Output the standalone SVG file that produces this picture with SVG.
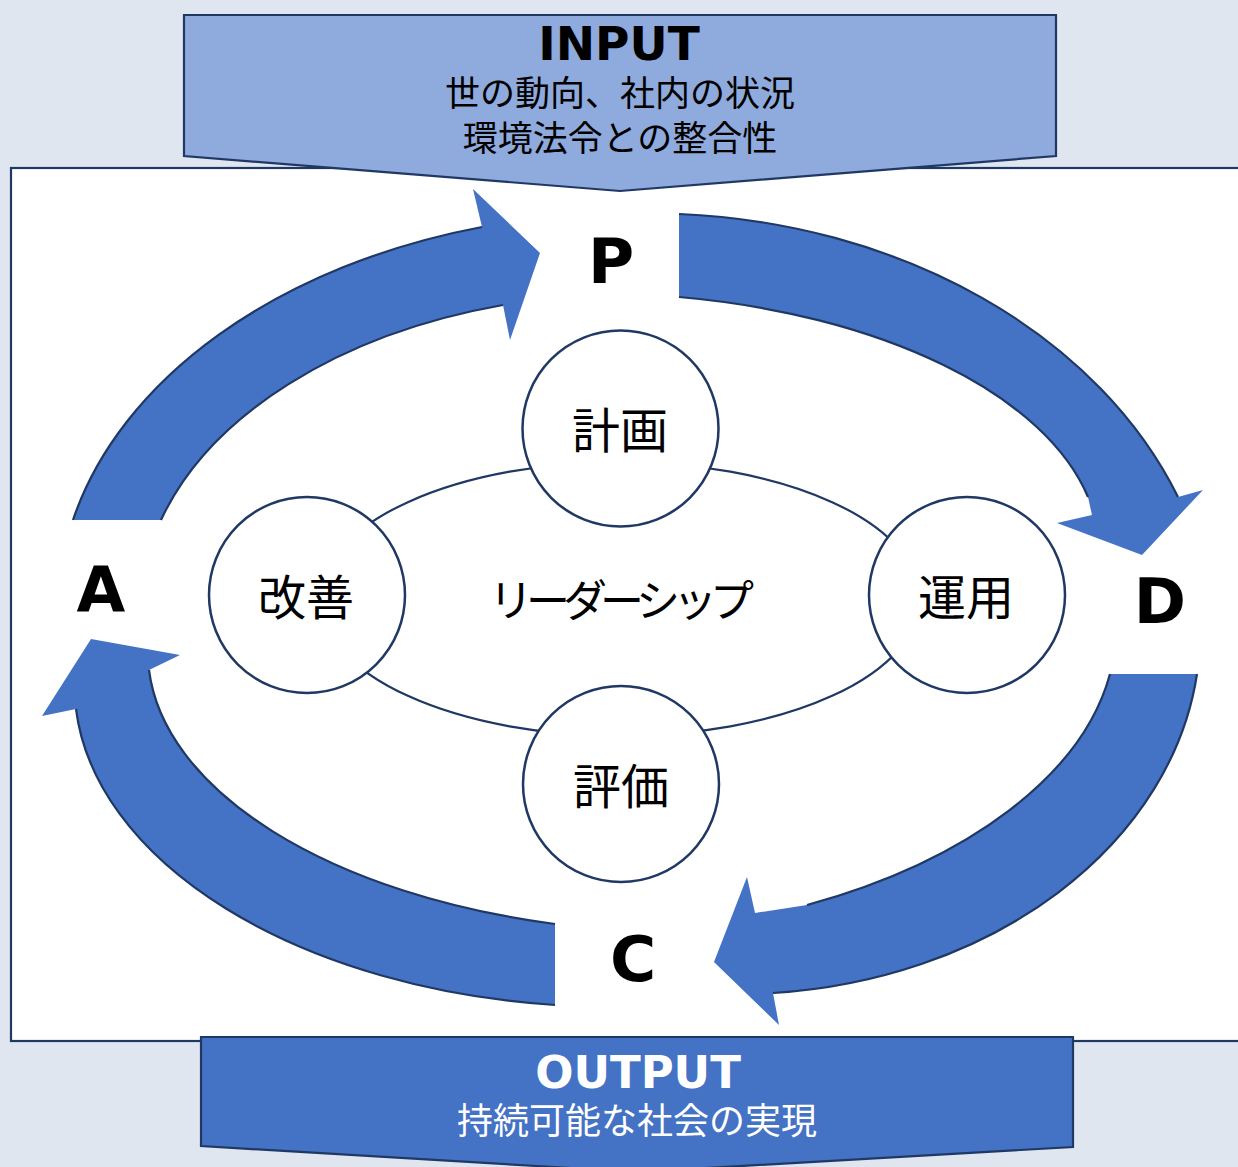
<svg xmlns="http://www.w3.org/2000/svg" width="1238" height="1167" viewBox="0 0 1238 1167">
<style>
.edge{fill:none;stroke:#1f3864;stroke-width:2.2}
.blue{fill:#4472c4;stroke:none}
.node{fill:#ffffff;stroke:#1f3864;stroke-width:2.5}
.jp{font-family:"Noto Sans CJK JP","Noto Sans",sans-serif;fill:#000}
.lat{font-family:"DejaVu Sans","Verdana",sans-serif;font-weight:bold;fill:#000}
</style>
<rect width="1238" height="1167" fill="#dfe6f0"/>
<g id="panel">
<rect x="11" y="168" width="1240" height="873" fill="#ffffff" stroke="#1f3864" stroke-width="2.2"/>
</g>
<g id="input">
<polygon points="184,15 1056,15 1056,156 620,191 184,156" fill="#8faadc" stroke="#1f3864" stroke-width="2.2"/>
<text class="lat" x="619" y="60" font-size="47" text-anchor="middle">INPUT</text>
<text class="jp" x="620" y="106" font-size="35" text-anchor="middle">世の動向、社内の状況</text>
<text class="jp" x="620" y="151" font-size="35" text-anchor="middle">環境法令との整合性</text>
</g>
<g id="output">
<polygon points="201,1037 1073,1037 1073,1147 637,1172 201,1146" fill="#4472c4" stroke="#1f3864" stroke-width="2.2"/>
<text class="lat" x="638" y="1088" font-size="45" text-anchor="middle" style="fill:#ffffff">OUTPUT</text>
<text class="jp" x="637" y="1134" font-size="36" text-anchor="middle" style="fill:#ffffff">持続可能な社会の実現</text>
</g>
<g id="connectors">
<g id="arrow-a-p">
<path class="blue" d="M73,520 A576,397 0 0 1 482,227 L473,189 L540,253 L510,340 L503,305 A493,316 0 0 0 161,520 Z"/>
<path class="edge" d="M73,520 A576,397 0 0 1 482,227"/>
<path class="edge" d="M503,305 A493,316 0 0 0 161,520"/>
</g>
<g id="arrow-p-d">
<path class="blue" d="M679,214 A567,443 0 0 1 1178,497 L1203,490 L1142,555 L1057,523 L1092,515 L1088,497 A506,258 0 0 0 679,297 Z"/>
<path class="edge" d="M679,214 A567,443 0 0 1 1178,497"/>
<path class="edge" d="M1088,497 A506,258 0 0 0 679,297"/>
</g>
<g id="arrow-d-c">
<path class="blue" d="M1197,674 A464,363 0 0 1 773,993 L779,1025 L714,962 L747,877 L755,913 L807,905 A553,309 0 0 0 1110,674 Z"/>
<path class="edge" d="M1197,674 A464,363 0 0 1 773,993"/>
<path class="edge" d="M807,905 A553,309 0 0 0 1110,674"/>
</g>
<g id="arrow-c-a">
<path class="blue" d="M555,1005 A540,322 0 0 1 76,709 L42,716 L91,639 L180,655 L149,670 A540,281 0 0 0 555,924 Z"/>
<path class="edge" d="M555,1005 A540,322 0 0 1 76,709"/>
<path class="edge" d="M149,670 A540,281 0 0 0 555,924"/>
</g>
</g>
<g id="leadership">
<ellipse cx="620" cy="599" rx="300" ry="137" fill="none" stroke="#1f3864" stroke-width="2.2"/>
<text class="jp" x="618" y="617" font-size="44" text-anchor="middle" letter-spacing="-7">リーダーシップ</text>
</g>
<g id="plan">
<circle class="node" cx="620.5" cy="428.5" r="98"/>
<text class="jp" x="620" y="448" font-size="48" text-anchor="middle">計画</text>
</g>
<g id="operation">
<circle class="node" cx="967" cy="595" r="98"/>
<text class="jp" x="966" y="615" font-size="48" text-anchor="middle">運用</text>
</g>
<g id="evaluation">
<circle class="node" cx="621" cy="784" r="98"/>
<text class="jp" x="621" y="804" font-size="48" text-anchor="middle">評価</text>
</g>
<g id="improvement">
<circle class="node" cx="307" cy="595" r="98"/>
<text class="jp" x="306" y="615" font-size="48" text-anchor="middle">改善</text>
</g>
<g id="label-p"><text class="lat" x="611" y="283" font-size="63" text-anchor="middle">P</text></g>
<g id="label-d"><text class="lat" x="1160" y="623" font-size="63" text-anchor="middle">D</text></g>
<g id="label-c"><text class="lat" x="633" y="981" font-size="63" text-anchor="middle">C</text></g>
<g id="label-a"><text class="lat" x="101" y="611" font-size="63" text-anchor="middle">A</text></g>
</svg>
